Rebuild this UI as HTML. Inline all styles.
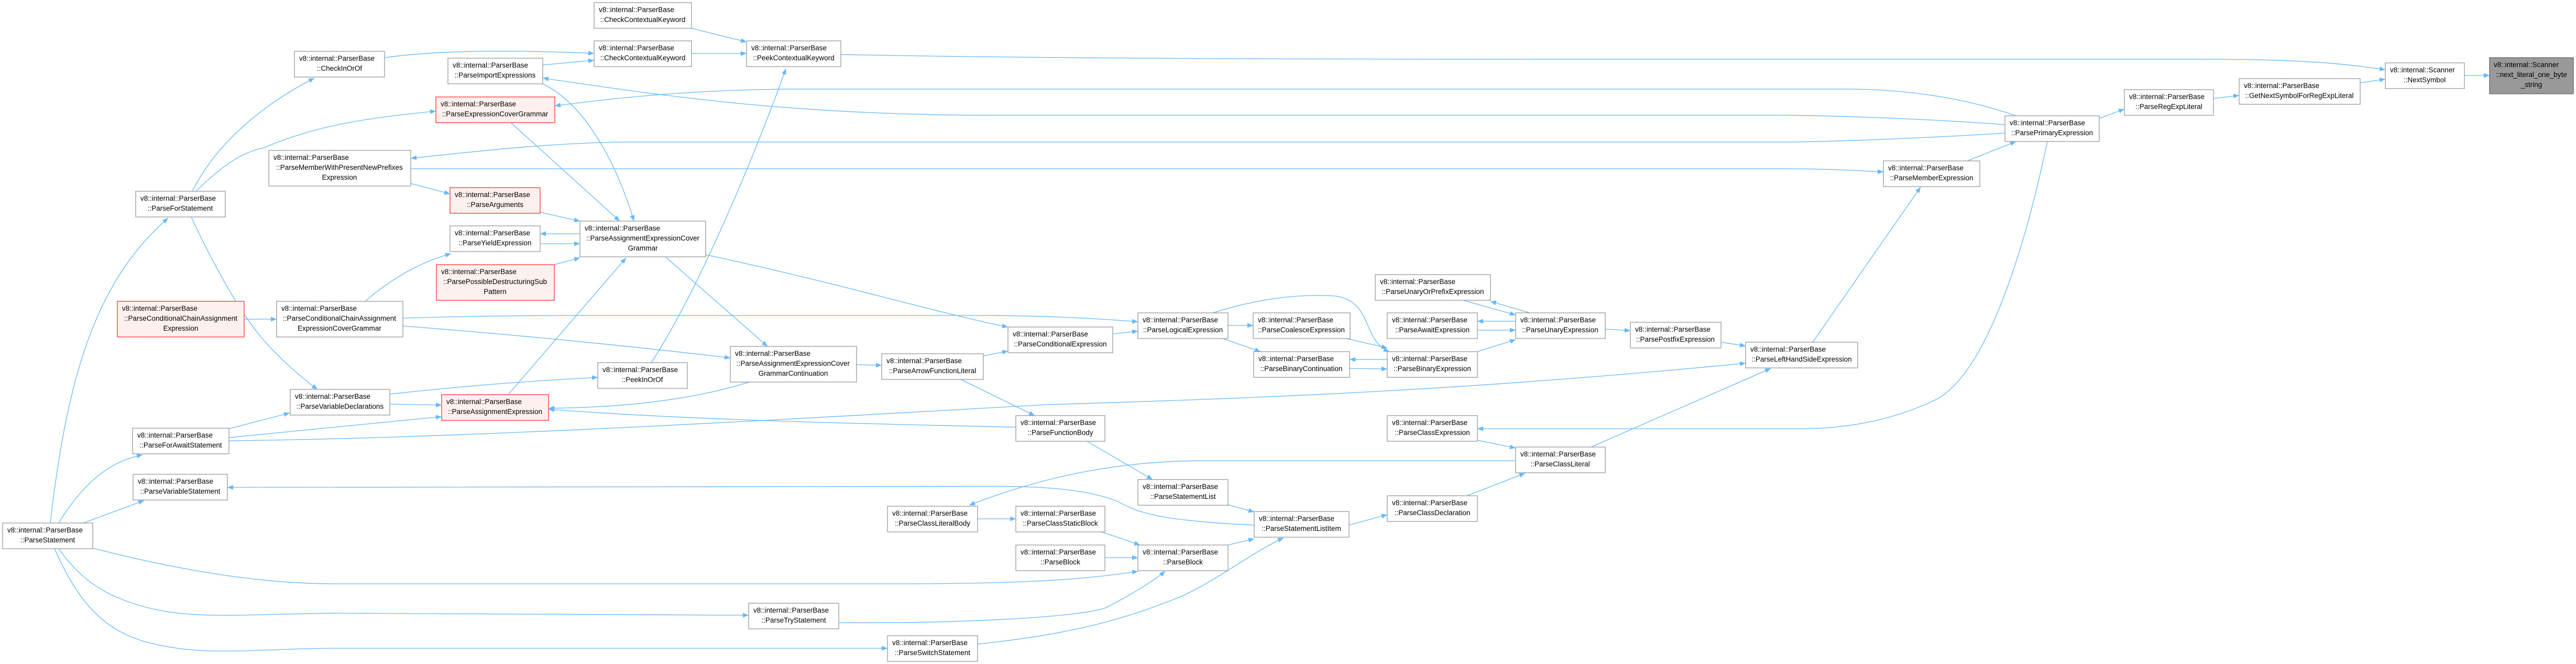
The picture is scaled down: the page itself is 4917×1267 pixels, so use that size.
<!DOCTYPE html>
<html><head><meta charset="utf-8"><style>
html,body{margin:0;padding:0;background:#fff;}
svg{display:block;}
text{font-family:"Liberation Sans",sans-serif;font-size:13.5px;fill:#000;}
.n{fill:#fff;stroke:#999;stroke-width:1.3;}
.r{fill:#fff0f0;stroke:#f33;stroke-width:1.3;}
.g{fill:#999;stroke:#666;stroke-width:1.3;}
.e{fill:none;stroke:#63b8ff;stroke-width:1.3;}
</style></head><body>
<svg width="4917" height="1267" viewBox="0 0 4917 1267" xmlns="http://www.w3.org/2000/svg">
<defs><marker id="a" markerWidth="12" markerHeight="9" refX="11" refY="4.5" orient="auto" markerUnits="userSpaceOnUse"><path d="M0,0 L11,4.5 L0,9z" fill="#63b8ff"/></marker></defs>
<g class="edges" marker-end="url(#a)">
<path class="e" marker-end="url(#a)" d="M4704,144 L4752,144"/>
<path class="e" marker-end="url(#a)" d="M4505,158 L4553,151"/>
<path class="e" marker-end="url(#a)" d="M1605,104 C2000,112 2500,113 3000,113 L4200,113 C4400,113 4480,122 4553,133"/>
<path class="e" marker-end="url(#a)" d="M4225,188 L4274,182"/>
<path class="e" marker-end="url(#a)" d="M4007,226 L4055,208"/>
<path class="e" marker-end="url(#a)" d="M3755,307 L3848,270"/>
<path class="e" marker-end="url(#a)" d="M3848,221 C3760,190 3650,170 3520,170 L1500,170 C1300,172 1150,190 1059,202"/>
<path class="e" marker-end="url(#a)" d="M3827,238 C3700,228 3500,220 3400,220 L1900,220 C1500,220 1250,180 1036,149"/>
<path class="e" marker-end="url(#a)" d="M3827,254 C3700,262 3500,271 3400,271 L1200,271 C1050,272 900,290 784,302"/>
<path class="e" marker-end="url(#a)" d="M784,322 L3400,322 C3500,322 3550,326 3595,328"/>
<path class="e" marker-end="url(#a)" d="M784,350 L859,370"/>
<path class="e" marker-end="url(#a)" d="M367,365 C420,260 520,190 600,149"/>
<path class="e" marker-end="url(#a)" d="M734,110 C850,94 1000,96 1134,102"/>
<path class="e" marker-end="url(#a)" d="M1036,124 L1134,115"/>
<path class="e" marker-end="url(#a)" d="M1320,54 L1425,80"/>
<path class="e" marker-end="url(#a)" d="M1320,102 L1425,102"/>
<path class="e" marker-end="url(#a)" d="M374,365 C420,320 460,290 504,282 C600,240 700,225 832,212"/>
<path class="e" marker-end="url(#a)" d="M975,234 L1183,422"/>
<path class="e" marker-end="url(#a)" d="M1036,160 C1120,200 1180,320 1210,422"/>
<path class="e" marker-end="url(#a)" d="M1031,405 L1107,422"/>
<path class="e" marker-end="url(#a)" d="M1107,446 L1031,446"/>
<path class="e" marker-end="url(#a)" d="M1031,465 L1107,465"/>
<path class="e" marker-end="url(#a)" d="M1058,505 L1107,492"/>
<path class="e" marker-end="url(#a)" d="M697,575 C760,520 820,495 861,484"/>
<path class="e" marker-end="url(#a)" d="M365,414 C410,510 460,600 504,650 C540,690 575,720 606,743"/>
<path class="e" marker-end="url(#a)" d="M466,609 L528,609"/>
<path class="e" marker-end="url(#a)" d="M769,607 C900,603 1000,602 1100,602 L1900,602 C2000,603 2100,608 2172,614"/>
<path class="e" marker-end="url(#a)" d="M769,622 C1000,640 1200,660 1394,683"/>
<path class="e" marker-end="url(#a)" d="M1347,486 C1600,540 1800,600 1924,624"/>
<path class="e" marker-end="url(#a)" d="M1270,490 L1465,661"/>
<path class="e" marker-end="url(#a)" d="M1635,696 L1683,697"/>
<path class="e" marker-end="url(#a)" d="M1430,729 C1300,770 1150,778 1047,779"/>
<path class="e" marker-end="url(#a)" d="M1243,692 C1330,560 1440,300 1500,131"/>
<path class="e" marker-end="url(#a)" d="M970,753 L1195,492"/>
<path class="e" marker-end="url(#a)" d="M744,752 C900,735 1000,728 1141,720"/>
<path class="e" marker-end="url(#a)" d="M744,771 L843,773"/>
<path class="e" marker-end="url(#a)" d="M437,818 L553,788"/>
<path class="e" marker-end="url(#a)" d="M437,835 C600,820 750,805 843,795"/>
<path class="e" marker-end="url(#a)" d="M437,841 C900,836 1500,800 2000,772 C2400,760 2800,745 3332,693"/>
<path class="e" marker-end="url(#a)" d="M1939,815 C1600,808 1300,800 1047,781"/>
<path class="e" marker-end="url(#a)" d="M1832,723 L1975,793"/>
<path class="e" marker-end="url(#a)" d="M2124,637 L2172,632"/>
<path class="e" marker-end="url(#a)" d="M1877,679 L1924,670"/>
<path class="e" marker-end="url(#a)" d="M2344,621 L2392,621"/>
<path class="e" marker-end="url(#a)" d="M2334,646 L2406,671"/>
<path class="e" marker-end="url(#a)" d="M2315,597 C2400,570 2480,560 2550,565 C2620,575 2600,650 2652,671"/>
<path class="e" marker-end="url(#a)" d="M2570,646 L2648,664"/>
<path class="e" marker-end="url(#a)" d="M2648,686 L2576,686"/>
<path class="e" marker-end="url(#a)" d="M2576,703 L2648,704"/>
<path class="e" marker-end="url(#a)" d="M2920,597 L2845,575"/>
<path class="e" marker-end="url(#a)" d="M2793,573 L2893,601"/>
<path class="e" marker-end="url(#a)" d="M2893,613 L2820,613"/>
<path class="e" marker-end="url(#a)" d="M2820,630 L2893,630"/>
<path class="e" marker-end="url(#a)" d="M2820,671 L2893,648"/>
<path class="e" marker-end="url(#a)" d="M3064,628 L3112,631"/>
<path class="e" marker-end="url(#a)" d="M3285,653 L3332,660"/>
<path class="e" marker-end="url(#a)" d="M3460,653 L3666,357"/>
<path class="e" marker-end="url(#a)" d="M3037,853 L3380,703"/>
<path class="e" marker-end="url(#a)" d="M2820,840 L2893,855"/>
<path class="e" marker-end="url(#a)" d="M2800,946 L2911,903"/>
<path class="e" marker-end="url(#a)" d="M3908,270 C3870,450 3800,700 3700,760 C3600,810 3500,818 3440,818 L2820,818"/>
<path class="e" marker-end="url(#a)" d="M2893,879 L2300,879 C2100,879 1950,925 1850,964"/>
<path class="e" marker-end="url(#a)" d="M2394,1002 C2250,995 2180,985 2134,957 C2080,935 2000,928 1900,928 L434,930"/>
<path class="e" marker-end="url(#a)" d="M1866,990 L1939,990"/>
<path class="e" marker-end="url(#a)" d="M2103,1015 L2176,1040"/>
<path class="e" marker-end="url(#a)" d="M2109,1064 L2172,1064"/>
<path class="e" marker-end="url(#a)" d="M2344,1040 L2394,1028"/>
<path class="e" marker-end="url(#a)" d="M2344,963 L2394,977"/>
<path class="e" marker-end="url(#a)" d="M2073,841 L2200,915"/>
<path class="e" marker-end="url(#a)" d="M2575,1002 L2648,982"/>
<path class="e" marker-end="url(#a)" d="M1866,1229 C2050,1210 2150,1180 2250,1140 C2320,1110 2380,1060 2450,1026"/>
<path class="e" marker-end="url(#a)" d="M96,998 C130,700 190,530 321,416"/>
<path class="e" marker-end="url(#a)" d="M112,998 C160,920 210,880 272,868"/>
<path class="e" marker-end="url(#a)" d="M159,998 L275,955"/>
<path class="e" marker-end="url(#a)" d="M177,1046 C350,1090 500,1114 640,1114 L1700,1114 C1900,1114 2050,1110 2172,1090"/>
<path class="e" marker-end="url(#a)" d="M112,1047 C150,1100 190,1130 250,1150 C350,1185 450,1172 640,1170 L1429,1174"/>
<path class="e" marker-end="url(#a)" d="M104,1047 C150,1150 200,1210 300,1230 C400,1253 500,1237 640,1237 L1694,1237"/>
<path class="e" marker-end="url(#a)" d="M1601,1188 C1800,1190 2050,1180 2110,1160 C2150,1140 2200,1110 2224,1090"/>
</g>
<g>
<rect class="g" x="4752" y="110" width="160" height="69"/><text x="4760" y="128">v8::internal::Scanner</text><text x="4832" y="147" text-anchor="middle">::next_literal_one_byte</text><text x="4832" y="166" text-anchor="middle">_string</text>
<rect class="n" x="4553" y="120" width="151" height="49"/><text x="4562" y="138">v8::internal::Scanner</text><text x="4628" y="157" text-anchor="middle">::NextSymbol</text>
<rect class="n" x="4274" y="150" width="231" height="49"/><text x="4283" y="168">v8::internal::ParserBase</text><text x="4389" y="187" text-anchor="middle">::GetNextSymbolForRegExpLiteral</text>
<rect class="n" x="4055" y="171" width="170" height="49"/><text x="4064" y="189">v8::internal::ParserBase</text><text x="4140" y="208" text-anchor="middle">::ParseRegExpLiteral</text>
<rect class="n" x="3827" y="221" width="180" height="49"/><text x="3836" y="239">v8::internal::ParserBase</text><text x="3917" y="258" text-anchor="middle">::ParsePrimaryExpression</text>
<rect class="n" x="3595" y="307" width="184" height="49"/><text x="3604" y="325">v8::internal::ParserBase</text><text x="3687" y="344" text-anchor="middle">::ParseMemberExpression</text>
<rect class="n" x="3332" y="653" width="214" height="49"/><text x="3341" y="671">v8::internal::ParserBase</text><text x="3439" y="690" text-anchor="middle">::ParseLeftHandSideExpression</text>
<rect class="n" x="3112" y="615" width="173" height="49"/><text x="3121" y="633">v8::internal::ParserBase</text><text x="3198" y="652" text-anchor="middle">::ParsePostfixExpression</text>
<rect class="n" x="2893" y="597" width="171" height="49"/><text x="2902" y="615">v8::internal::ParserBase</text><text x="2978" y="634" text-anchor="middle">::ParseUnaryExpression</text>
<rect class="n" x="2625" y="524" width="220" height="49"/><text x="2634" y="542">v8::internal::ParserBase</text><text x="2735" y="561" text-anchor="middle">::ParseUnaryOrPrefixExpression</text>
<rect class="n" x="2648" y="597" width="172" height="49"/><text x="2657" y="615">v8::internal::ParserBase</text><text x="2734" y="634" text-anchor="middle">::ParseAwaitExpression</text>
<rect class="n" x="2648" y="671" width="172" height="49"/><text x="2657" y="689">v8::internal::ParserBase</text><text x="2734" y="708" text-anchor="middle">::ParseBinaryExpression</text>
<rect class="n" x="2648" y="793" width="172" height="49"/><text x="2657" y="811">v8::internal::ParserBase</text><text x="2734" y="830" text-anchor="middle">::ParseClassExpression</text>
<rect class="n" x="2893" y="853" width="171" height="49"/><text x="2902" y="871">v8::internal::ParserBase</text><text x="2978" y="890" text-anchor="middle">::ParseClassLiteral</text>
<rect class="n" x="2648" y="946" width="172" height="49"/><text x="2657" y="964">v8::internal::ParserBase</text><text x="2734" y="983" text-anchor="middle">::ParseClassDeclaration</text>
<rect class="n" x="2392" y="597" width="185" height="49"/><text x="2401" y="615">v8::internal::ParserBase</text><text x="2484" y="634" text-anchor="middle">::ParseCoalesceExpression</text>
<rect class="n" x="2393" y="671" width="183" height="49"/><text x="2402" y="689">v8::internal::ParserBase</text><text x="2484" y="708" text-anchor="middle">::ParseBinaryContinuation</text>
<rect class="n" x="2172" y="597" width="172" height="49"/><text x="2181" y="615">v8::internal::ParserBase</text><text x="2258" y="634" text-anchor="middle">::ParseLogicalExpression</text>
<rect class="n" x="1924" y="624" width="200" height="49"/><text x="1933" y="642">v8::internal::ParserBase</text><text x="2024" y="661" text-anchor="middle">::ParseConditionalExpression</text>
<rect class="n" x="1939" y="793" width="170" height="49"/><text x="1948" y="811">v8::internal::ParserBase</text><text x="2024" y="830" text-anchor="middle">::ParseFunctionBody</text>
<rect class="n" x="2172" y="915" width="172" height="49"/><text x="2181" y="933">v8::internal::ParserBase</text><text x="2258" y="952" text-anchor="middle">::ParseStatementList</text>
<rect class="n" x="2394" y="976" width="181" height="49"/><text x="2403" y="994">v8::internal::ParserBase</text><text x="2484" y="1013" text-anchor="middle">::ParseStatementListItem</text>
<rect class="n" x="1939" y="966" width="170" height="49"/><text x="1948" y="984">v8::internal::ParserBase</text><text x="2024" y="1003" text-anchor="middle">::ParseClassStaticBlock</text>
<rect class="n" x="1939" y="1040" width="170" height="49"/><text x="1948" y="1058">v8::internal::ParserBase</text><text x="2024" y="1077" text-anchor="middle">::ParseBlock</text>
<rect class="n" x="2172" y="1040" width="172" height="49"/><text x="2181" y="1058">v8::internal::ParserBase</text><text x="2258" y="1077" text-anchor="middle">::ParseBlock</text>
<rect class="n" x="1683" y="675" width="194" height="49"/><text x="1692" y="693">v8::internal::ParserBase</text><text x="1780" y="712" text-anchor="middle">::ParseArrowFunctionLiteral</text>
<rect class="n" x="1694" y="966" width="172" height="49"/><text x="1703" y="984">v8::internal::ParserBase</text><text x="1780" y="1003" text-anchor="middle">::ParseClassLiteralBody</text>
<rect class="n" x="1694" y="1213" width="172" height="49"/><text x="1703" y="1231">v8::internal::ParserBase</text><text x="1780" y="1250" text-anchor="middle">::ParseSwitchStatement</text>
<rect class="n" x="1429" y="1151" width="172" height="49"/><text x="1438" y="1169">v8::internal::ParserBase</text><text x="1515" y="1188" text-anchor="middle">::ParseTryStatement</text>
<rect class="n" x="1394" y="661" width="241" height="68"/><text x="1403" y="679">v8::internal::ParserBase</text><text x="1514" y="698" text-anchor="middle">::ParseAssignmentExpressionCover</text><text x="1514" y="717" text-anchor="middle">GrammarContinuation</text>
<rect class="n" x="1141" y="692" width="171" height="49"/><text x="1150" y="710">v8::internal::ParserBase</text><text x="1226" y="729" text-anchor="middle">::PeekInOrOf</text>
<rect class="n" x="1107" y="422" width="240" height="68"/><text x="1116" y="440">v8::internal::ParserBase</text><text x="1227" y="459" text-anchor="middle">::ParseAssignmentExpressionCover</text><text x="1227" y="478" text-anchor="middle">Grammar</text>
<rect class="n" x="1425" y="78" width="180" height="49"/><text x="1434" y="96">v8::internal::ParserBase</text><text x="1515" y="115" text-anchor="middle">::PeekContextualKeyword</text>
<rect class="n" x="1134" y="5" width="186" height="49"/><text x="1143" y="23">v8::internal::ParserBase</text><text x="1227" y="42" text-anchor="middle">::CheckContextualKeyword</text>
<rect class="n" x="1134" y="78" width="186" height="49"/><text x="1143" y="96">v8::internal::ParserBase</text><text x="1227" y="115" text-anchor="middle">::CheckContextualKeyword</text>
<rect class="n" x="855" y="111" width="181" height="49"/><text x="864" y="129">v8::internal::ParserBase</text><text x="945" y="148" text-anchor="middle">::ParseImportExpressions</text>
<rect class="r" x="832" y="185" width="227" height="49"/><text x="841" y="203">v8::internal::ParserBase</text><text x="945" y="222" text-anchor="middle">::ParseExpressionCoverGrammar</text>
<rect class="r" x="859" y="358" width="172" height="49"/><text x="868" y="376">v8::internal::ParserBase</text><text x="945" y="395" text-anchor="middle">::ParseArguments</text>
<rect class="n" x="859" y="431" width="172" height="49"/><text x="868" y="449">v8::internal::ParserBase</text><text x="945" y="468" text-anchor="middle">::ParseYieldExpression</text>
<rect class="r" x="833" y="505" width="225" height="68"/><text x="842" y="523">v8::internal::ParserBase</text><text x="945" y="542" text-anchor="middle">::ParsePossibleDestructuringSub</text><text x="945" y="561" text-anchor="middle">Pattern</text>
<rect class="r" x="843" y="753" width="204" height="49"/><text x="852" y="771">v8::internal::ParserBase</text><text x="945" y="790" text-anchor="middle">::ParseAssignmentExpression</text>
<rect class="n" x="562" y="98" width="172" height="49"/><text x="571" y="116">v8::internal::ParserBase</text><text x="648" y="135" text-anchor="middle">::CheckInOrOf</text>
<rect class="n" x="513" y="287" width="271" height="68"/><text x="522" y="305">v8::internal::ParserBase</text><text x="648" y="324" text-anchor="middle">::ParseMemberWithPresentNewPrefixes</text><text x="648" y="343" text-anchor="middle">Expression</text>
<rect class="n" x="259" y="365" width="171" height="49"/><text x="268" y="383">v8::internal::ParserBase</text><text x="344" y="402" text-anchor="middle">::ParseForStatement</text>
<rect class="r" x="224" y="575" width="242" height="68"/><text x="233" y="593">v8::internal::ParserBase</text><text x="345" y="612" text-anchor="middle">::ParseConditionalChainAssignment</text><text x="345" y="631" text-anchor="middle">Expression</text>
<rect class="n" x="528" y="575" width="241" height="68"/><text x="537" y="593">v8::internal::ParserBase</text><text x="648" y="612" text-anchor="middle">::ParseConditionalChainAssignment</text><text x="648" y="631" text-anchor="middle">ExpressionCoverGrammar</text>
<rect class="n" x="554" y="743" width="190" height="49"/><text x="563" y="761">v8::internal::ParserBase</text><text x="649" y="780" text-anchor="middle">::ParseVariableDeclarations</text>
<rect class="n" x="253" y="817" width="184" height="49"/><text x="262" y="835">v8::internal::ParserBase</text><text x="345" y="854" text-anchor="middle">::ParseForAwaitStatement</text>
<rect class="n" x="254" y="905" width="180" height="49"/><text x="263" y="923">v8::internal::ParserBase</text><text x="344" y="942" text-anchor="middle">::ParseVariableStatement</text>
<rect class="n" x="5" y="998" width="172" height="49"/><text x="14" y="1016">v8::internal::ParserBase</text><text x="91" y="1035" text-anchor="middle">::ParseStatement</text>
</g>
</svg>
</body></html>
